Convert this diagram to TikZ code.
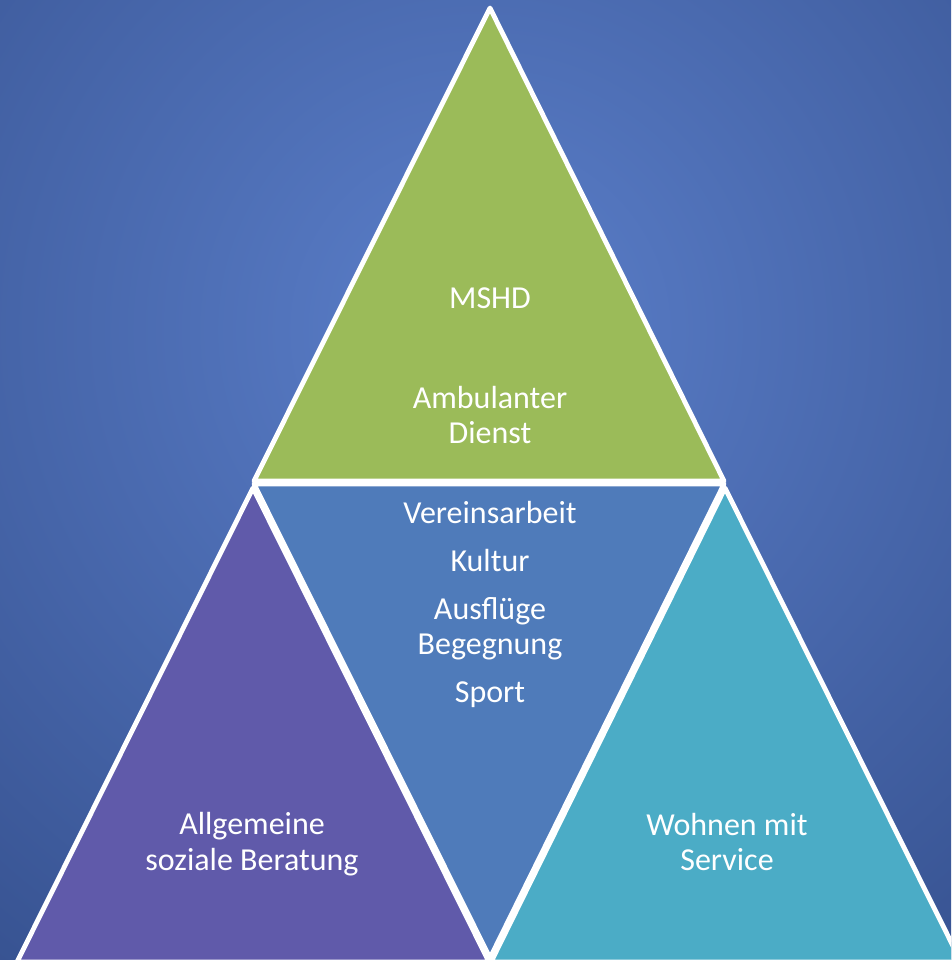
\documentclass[tikz,border=0pt]{standalone}
\usepackage{fontspec}
\setmainfont{Carlito}
\definecolor{bgin}{HTML}{5B7FCA}
\definecolor{bgout}{HTML}{35508E}
\definecolor{ambgreen}{HTML}{9BBB59}
\definecolor{beratpurple}{HTML}{605AAA}
\definecolor{wohnteal}{HTML}{4BACC6}
\definecolor{vereinblue}{HTML}{4F7BBA}
\begin{document}
\begin{tikzpicture}[x=0.75pt,y=0.75pt,yscale=-1,xscale=1,
	tri/.style={draw=white,line width=3.6pt,line join=round},
	lbl/.style={text=white,align=center,inner sep=0.75pt,font=\fontsize{24}{26.5}\selectfont}]
			\useasboundingbox (0,0) rectangle (951,960);
			\clip (0,0) rectangle (951,960);

			%Background
			\shade[inner color=bgin,outer color=bgout] (480,330) circle (850);

			%Shape: Triangle [top]
			\draw[tri,fill=ambgreen] (490,8) -- (724,481) -- (254,481) -- cycle ;
			%Shape: Triangle [middle]
			\draw[tri,fill=vereinblue] (254,484) -- (724,484) -- (490,958) -- cycle ;
			%Shape: Triangle [left]
			\draw[tri,fill=beratpurple] (253,488) -- (489,962) -- (17,962) -- cycle ;
			%Shape: Triangle [right]
			\draw[tri,fill=wohnteal] (725,488) -- (961,962) -- (491,962) -- cycle ;

			% Text Node
			\node[lbl] (mshd) at (490,298) {MSHD};
			% Text Node
			\node[lbl] (ambulant) at (490,415) {Ambulanter\\Dienst};
			% Text Node
			\node[lbl] (verein) at (490,513) {Vereinsarbeit};
			% Text Node
			\node[lbl] (kultur) at (490,561) {Kultur};
			% Text Node
			\node[lbl] (ausflug) at (490,629) {Ausflüge\\Begegnung};
			% Text Node
			\node[lbl] (sport) at (490,695) {Sport};
			% Text Node
			\node[lbl] (beratung) at (252,844) {Allgemeine\\soziale Beratung};
			% Text Node
			\node[lbl] (wohnen) at (727,842) {Wohnen mit\\Service};

		\end{tikzpicture}
\end{document}
